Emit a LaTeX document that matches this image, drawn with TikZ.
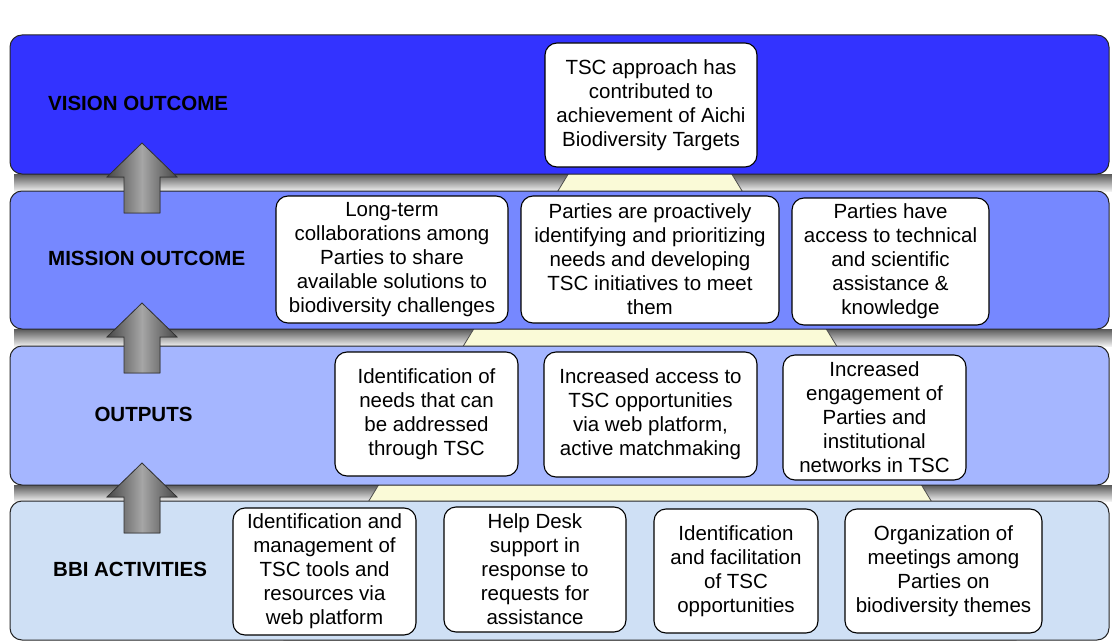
\documentclass[tikz,border=0pt]{standalone}
\usepackage{fontspec}
\setmainfont{Liberation Sans}
\definecolor{visionblue}{RGB}{51,51,255}
\definecolor{missionblue}{RGB}{118,136,255}
\definecolor{outputblue}{RGB}{165,182,255}
\definecolor{bbiblue}{RGB}{207,224,245}
\definecolor{pyryellow}{RGB}{250,250,215}
\begin{document}
\begin{tikzpicture}[x=1pt,y=-1pt,
  band/.style={draw=black!85, line width=1pt, rounded corners=12pt},
  box/.style={draw=black, line width=1.1pt, fill=white, rounded corners=12pt, align=center, inner sep=0pt, font=\fontsize{20.5}{24}\selectfont},
  lbl/.style={font=\bfseries\fontsize{20.5}{24}\selectfont, inner sep=0pt},
  uparrow/.style={draw=black!80, line width=0.8pt, left color=black!72, right color=black!72, middle color=black!35},
  gapshade/.style={top color=black!65, bottom color=black!6, draw=none}]
\fill[white] (0,0) rectangle (1112,642);
\useasboundingbox (0,0) rectangle (1112,642);
% shadows in the gaps
\shade[gapshade] (14,174) rectangle (1112,191);
\shade[gapshade] (14,329) rectangle (1112,346);
\shade[gapshade] (14,485) rectangle (1112,501);
% pyramid behind the bands
\filldraw[fill=pyryellow, draw=black!70, line width=0.8pt] (650,40) -- (1016,640) -- (284,640) -- cycle;
% bands
\filldraw[band, fill=visionblue] (10,35) rectangle (1109,174);
\filldraw[band, fill=missionblue] (10,191) rectangle (1109,329);
\filldraw[band, fill=outputblue] (10,346) rectangle (1109,485);
\filldraw[band, fill=bbiblue] (10,501) rectangle (1109,640);
% row labels
\node[lbl, anchor=west] (lvision) at (48,103) {VISION OUTCOME};
\node[lbl, anchor=west] (lmission) at (48,258) {MISSION OUTCOME};
\node[lbl] (loutputs) at (143.5,414) {OUTPUTS};
\node[lbl, anchor=west] (lbbi) at (53,569) {BBI ACTIVITIES};
% arrows
\foreach \t in {143,303,463} {
  \filldraw[uparrow] (142,\t) -- (177,{\t+34}) -- (160,{\t+34}) -- (160,{\t+70}) -- (124,{\t+70}) -- (124,{\t+34}) -- (107,{\t+34}) -- cycle;
}
% vision
\node[box, minimum width=212pt, minimum height=124pt] (v1) at (651,105) {TSC approach has\\contributed to\\achievement of Aichi\\Biodiversity Targets};
% mission
\node[box, minimum width=232pt, minimum height=127pt] (m1) at (392,259.5) {Long-term\\collaborations among\\Parties to share\\available solutions to\\biodiversity challenges};
\node[box, minimum width=258pt, minimum height=127pt] (m2) at (650,259.5) {Parties are proactively\\identifying and prioritizing\\needs and developing\\TSC initiatives to meet\\them};
\node[box, minimum width=197pt, minimum height=127pt] (m3) at (890.5,261.5) {Parties have\\access to technical\\and scientific\\assistance \&\\knowledge};
% outputs
\node[box, minimum width=183pt, minimum height=124pt] (o1) at (426.5,414) {Identification of\\needs that can\\be addressed\\through TSC};
\node[box, minimum width=213pt, minimum height=125pt] (o2) at (650.5,414.5) {Increased access to\\TSC opportunities\\via web platform,\\active matchmaking};
\node[box, minimum width=183pt, minimum height=125pt] (o3) at (874.5,417.5) {Increased\\engagement of\\Parties and\\institutional\\networks in TSC};
% activities
\node[box, minimum width=183pt, minimum height=127pt] (a1) at (324.5,571.5) {Identification and\\management of\\TSC tools and\\resources via\\web platform};
\node[box, minimum width=182pt, minimum height=125pt] (a2) at (535,569.5) {Help Desk\\support in\\response to\\requests for\\assistance};
\node[box, minimum width=164pt, minimum height=124pt] (a3) at (736,571) {Identification\\and facilitation\\of TSC\\opportunities};
\node[box, minimum width=197pt, minimum height=124pt] (a4) at (943.5,571) {Organization of\\meetings among\\Parties on\\biodiversity themes};
\end{tikzpicture}
\end{document}
